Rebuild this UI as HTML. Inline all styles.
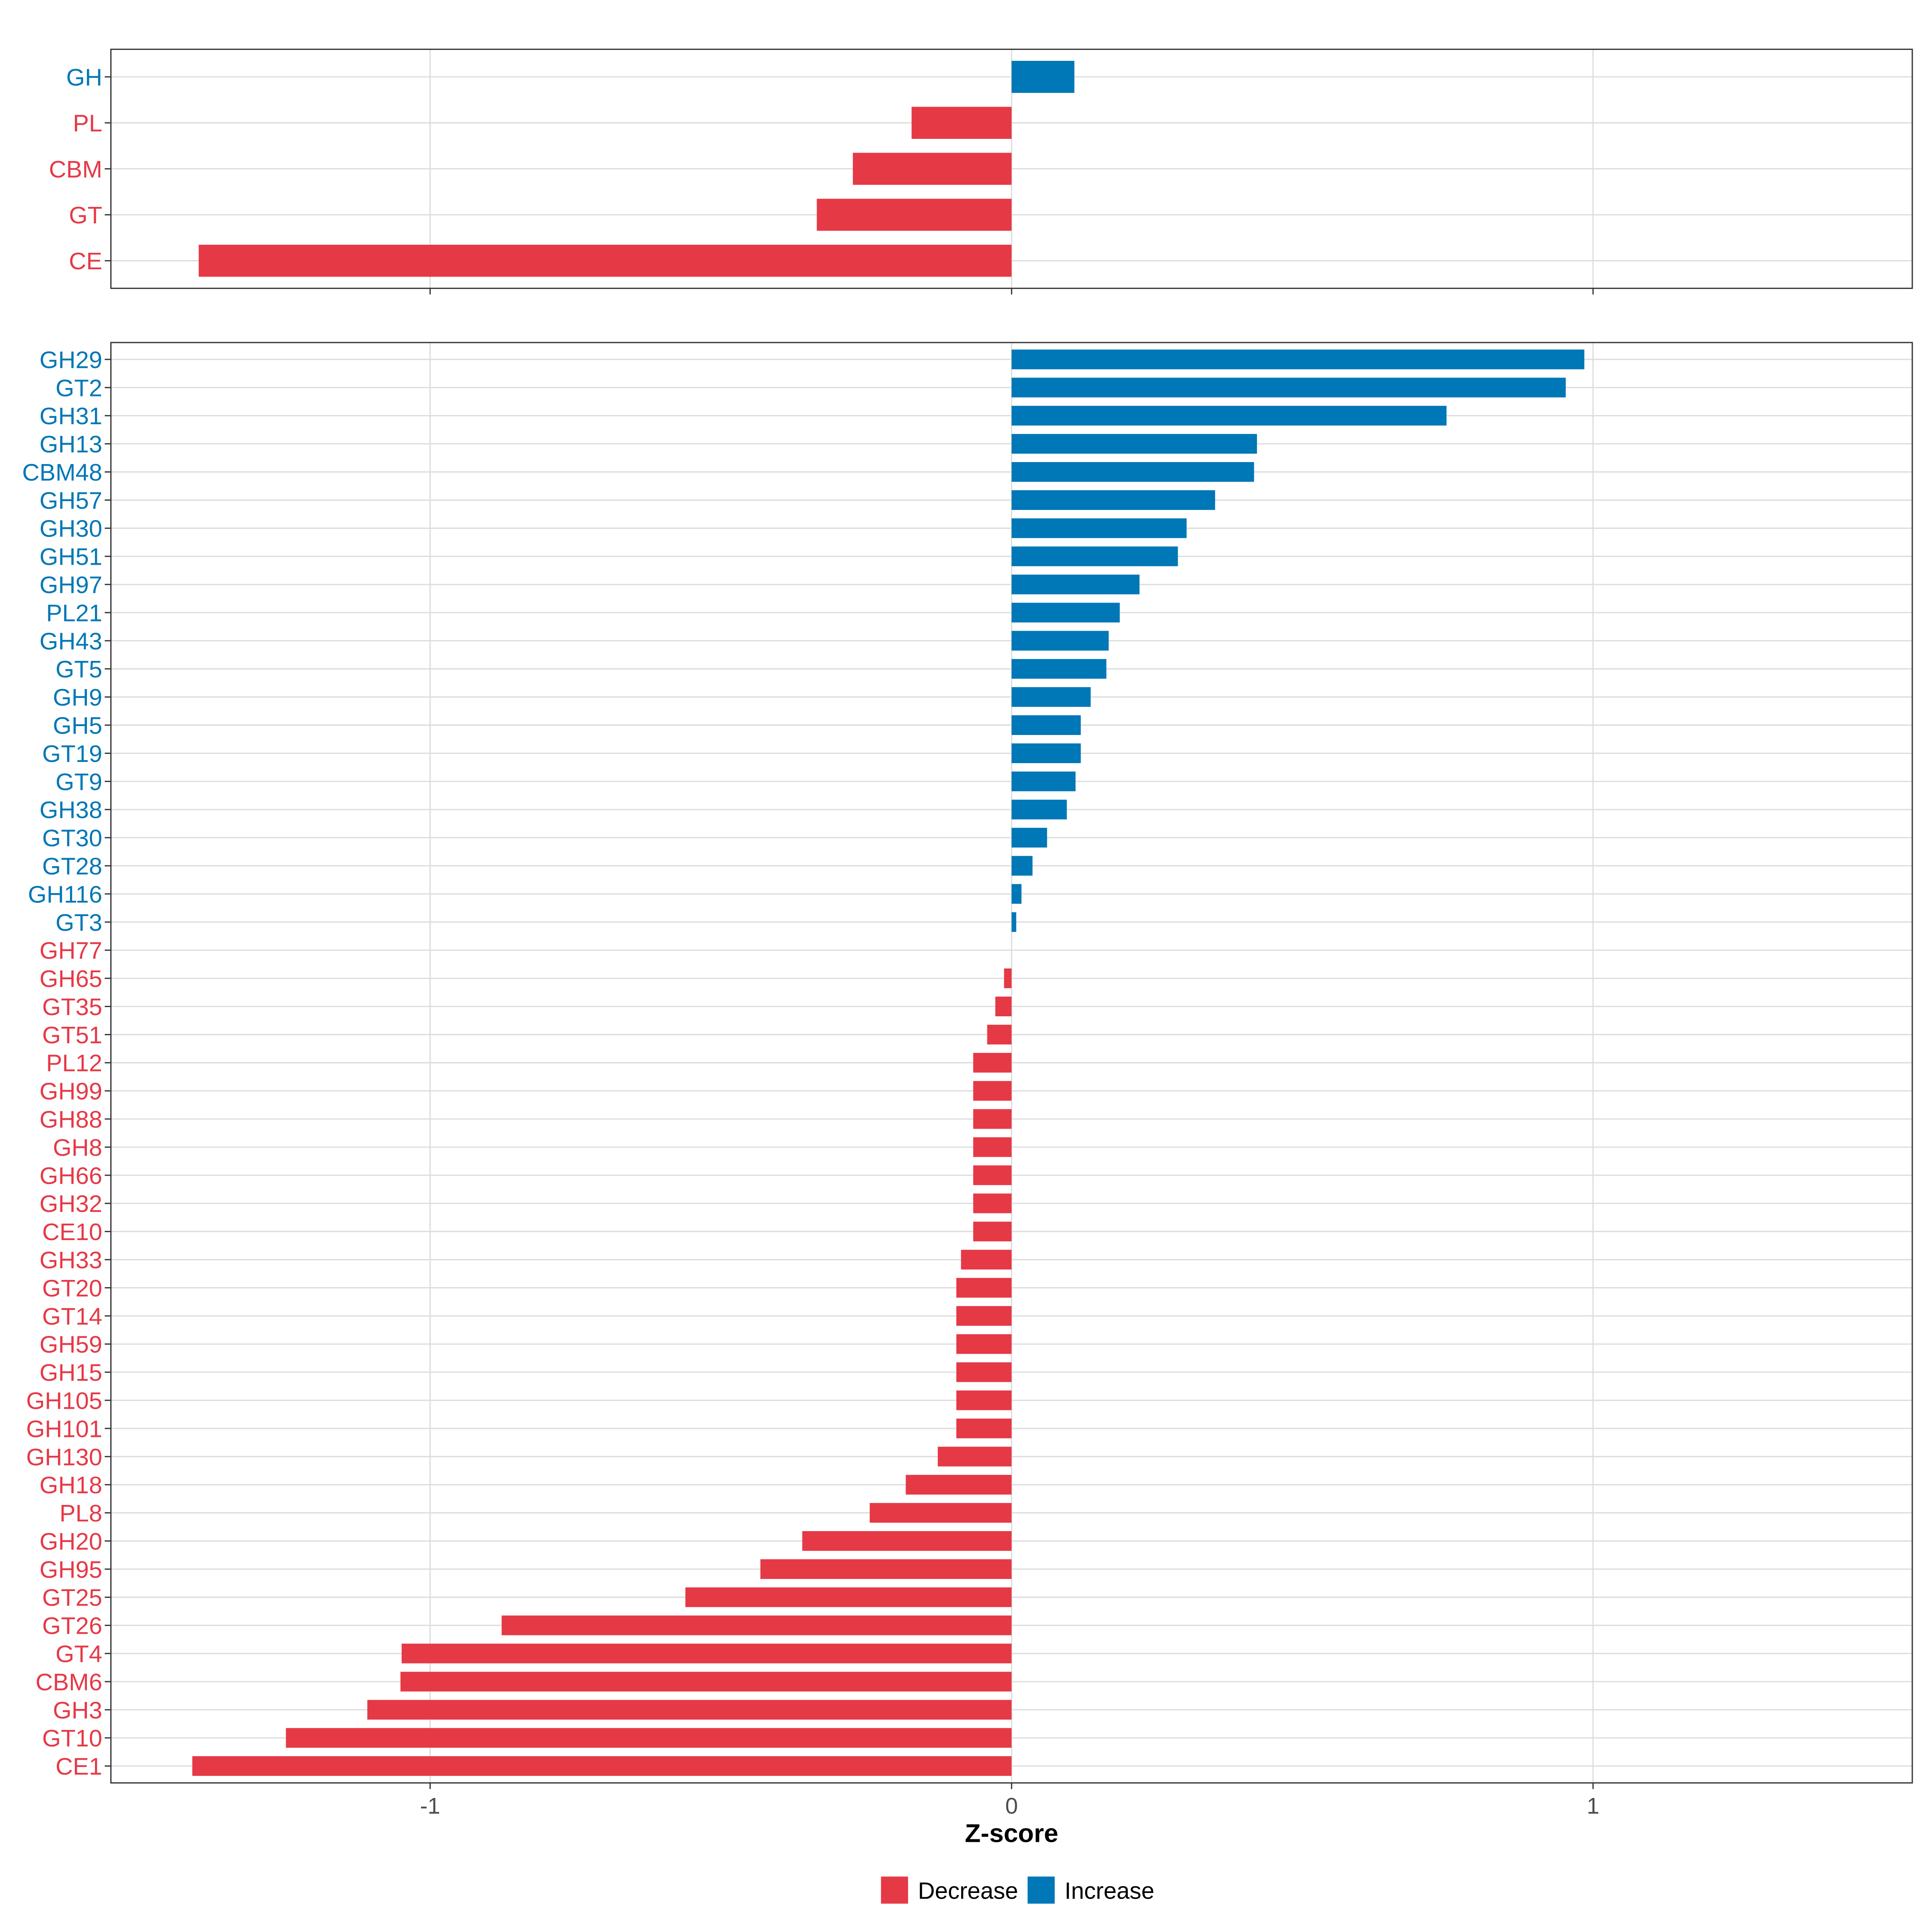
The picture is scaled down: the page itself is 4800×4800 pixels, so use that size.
<!DOCTYPE html>
<html><head><meta charset="utf-8"><style>
html,body{margin:0;padding:0;background:#fff}
svg{display:block;font-family:"Liberation Sans",sans-serif}
</style></head><body>
<svg id="chart" width="4800" height="4800" viewBox="0 0 1568 1568" xmlns="http://www.w3.org/2000/svg"></svg>
<script>
const topCategories = ["GH","PL","CBM","GT","CE"];
const topValues = [0.108,-0.172,-0.273,-0.335,-1.398];
const bottomCategories = ["GH29","GT2","GH31","GH13","CBM48","GH57","GH30","GH51","GH97","PL21","GH43","GT5","GH9","GH5","GT19","GT9","GH38","GT30","GT28","GH116","GT3","GH77","GH65","GT35","GT51","PL12","GH99","GH88","GH8","GH66","GH32","CE10","GH33","GT20","GT14","GH59","GH15","GH105","GH101","GH130","GH18","PL8","GH20","GH95","GT25","GT26","GT4","CBM6","GH3","GT10","CE1"];
const bottomValues = [0.985,0.953,0.748,0.422,0.417,0.350,0.301,0.286,0.220,0.186,0.167,0.163,0.136,0.119,0.119,0.110,0.095,0.061,0.036,0.017,0.008,0,-0.013,-0.028,-0.042,-0.066,-0.066,-0.066,-0.066,-0.066,-0.066,-0.066,-0.087,-0.095,-0.095,-0.095,-0.095,-0.095,-0.095,-0.127,-0.182,-0.244,-0.360,-0.432,-0.561,-0.877,-1.049,-1.051,-1.108,-1.248,-1.409];
const xTicks = [-1,0,1];
const xTickLabels = ["-1","0","1"];

const RED="#E63946", BLUE="#0077B6";
const svg=document.getElementById('chart');
const NS="http://www.w3.org/2000/svg";
const X0=90, X1=1552, XMIN=-1.549, XMAX=1.549;
function x(v){return X0+(v-XMIN)/(XMAX-XMIN)*(X1-X0);}
function mk(tag,attrs,parent){const e=document.createElementNS(NS,tag);for(const k in attrs)e.setAttribute(k,attrs[k]);(parent||svg).appendChild(e);return e;}

function panel(name,cats,vals,top,bottom,barH){
  const g=mk('g',{});
  
  
  const n=cats.length;
  const step=(bottom-top)/(n-1+1.2);
  const first=top+0.6*step;
  function y(i){return first+i*step;}
  xTicks.forEach(t=>{
    const l=mk('line',{x1:x(t),x2:x(t),y1:top,y2:bottom,stroke:'#dcdcdc','stroke-width':1},g);
    
    
  });
  cats.forEach((c,i)=>{
    const l=mk('line',{x1:X0,x2:X1,y1:y(i),y2:y(i),stroke:'#dcdcdc','stroke-width':1},g);
    
    
  });
  cats.forEach((c,i)=>{
    const v=vals[i];
    const col=v>0?BLUE:RED;
    const r=mk('rect',{x:Math.min(x(0),x(v)),y:y(i)-barH/2,width:Math.abs(x(v)-x(0)),height:barH,fill:col},g);
    
    
    const tk=mk('line',{x1:X0-5,x2:X0,y1:y(i),y2:y(i),stroke:'#333','stroke-width':1},g);
    
    
    const t=mk('text',{x:X0-7,y:y(i)+7,'text-anchor':'end','font-size':19.5,fill:col},g);
    t.textContent=c;
    
    
  });
  const b=mk('rect',{x:X0,y:top,width:X1-X0,height:bottom-top,fill:'none',stroke:'#333','stroke-width':1},g);
  
  
  xTicks.forEach(t=>{
    const l=mk('line',{x1:x(t),x2:x(t),y1:bottom,y2:bottom+5,stroke:'#333','stroke-width':1},g);
    
    
  });
}
panel('top-panel',topCategories,topValues,40,234,26);
panel('bottom-panel',bottomCategories,bottomValues,278,1447,16);

xTicks.forEach((t,i)=>{
  const e=mk('text',{x:x(t),y:1472,'text-anchor':'middle','font-size':18.5,fill:'#4d4d4d'});
  e.textContent=xTickLabels[i];
  
  
});
const title=mk('text',{x:821,y:1495,'text-anchor':'middle','font-size':21,'font-weight':'bold',fill:'#000'});
title.textContent='Z-score';



const lg=mk('g',{});


[[715,RED,'Decrease'],[834,BLUE,'Increase']].forEach(([lx,col,lab])=>{
  const r=mk('rect',{x:lx,y:1523,width:22,height:22,fill:col},lg);
  
  
  const t=mk('text',{x:lx+30,y:1541,'font-size':19,fill:'#000'},lg);
  t.textContent=lab;
  
  
});
</script>
</body></html>
